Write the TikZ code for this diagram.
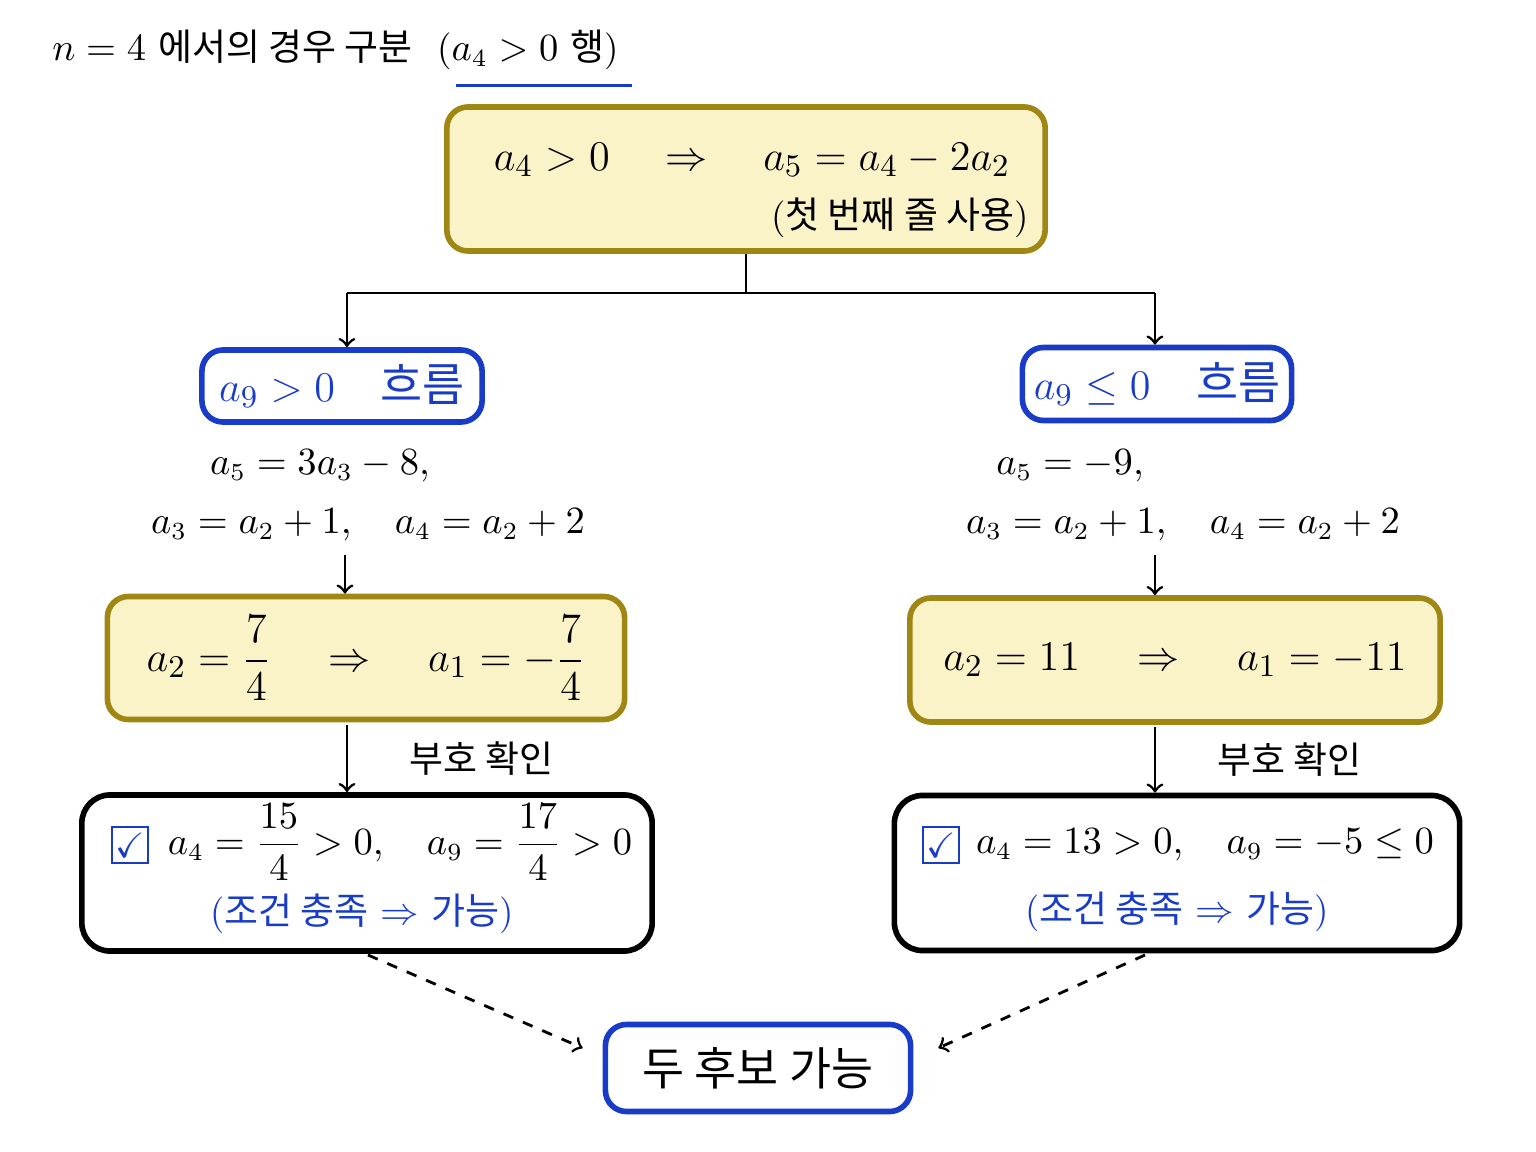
\documentclass[tikz,border=0pt]{standalone}
\usepackage{amsmath}
\usepackage{amssymb}
\usepackage{fontspec}
\newfontfamily\kr{Noto Sans CJK KR}
\usetikzlibrary{positioning}
\definecolor{boxyellow}{RGB}{250,243,200}
\definecolor{olive}{RGB}{160,135,20}
\definecolor{flowblue}{RGB}{25,60,200}
\tikzset{
	yellowbox/.style={draw=olive,fill=boxyellow,line width=1.6pt,rounded corners=6pt,inner sep=2pt},
	bluebox/.style={draw=flowblue,line width=1.6pt,rounded corners=6pt,text=flowblue,inner sep=2pt},
	whitebox/.style={draw=black,line width=1.6pt,rounded corners=8pt},
	tick/.style={draw=flowblue,thick,minimum size=0.36cm,inner sep=0pt,text=flowblue},
	flow/.style={->,thick},
	big/.style={font=\fontsize{13}{16}\selectfont},
	mid/.style={font=\fontsize{10.5}{13}\selectfont}
}
\begin{document}
\begin{tikzpicture}[x=0.01cm,y=-0.01cm]
	\useasboundingbox (0,0) rectangle (1536,1152);
	% title
	\node[anchor=west,mid] (title) at (40,50) {$n=4$ {\kr 에서의 경우 구분}\ \ ($a_4>0$ {\kr 행})};
	\draw[flowblue,thick] ([xshift=-1.75cm,yshift=-1pt]title.south east) -- ([yshift=-1pt]title.south east);
	% top box
	\node[yellowbox,minimum width=5.98cm,minimum height=1.44cm] (top) at (746,179) {};
	\node[big,font=\fontsize{12.5}{15}\selectfont] (topeq) at (752,160) {$a_4>0 \quad\Rightarrow\quad a_5=a_4-2a_2$};
	\node[mid] (topnote) at (900,218) {({\kr 첫 번째 줄 사용})};
	% split
	\coordinate (mid) at (746,293);
	\coordinate (lsplit) at (347,293);
	\coordinate (rsplit) at (1155,293);
	\node[bluebox,minimum width=2.8cm,minimum height=0.72cm,big] (lflow) at (342,386) {$a_9>0$\quad{\kr 흐름}};
	\node[bluebox,minimum width=2.69cm,minimum height=0.73cm,big] (rflow) at (1157,384) {$a_9\le 0$\quad{\kr 흐름}};
	\draw[thick] (top.south) -- (mid) -- (lsplit);
	\draw[thick] (mid) -- (rsplit);
	\draw[flow] (lsplit) -- (lflow.north -| lsplit);
	\draw[flow] (rsplit) -- (rflow.north -| rsplit);
	% left branch
	\node[mid] (leq1) at (320,466) {$a_5=3a_3-8,$};
	\node[mid] (leq2) at (368,525) {$a_3=a_2+1,\quad a_4=a_2+2$};
	\node[yellowbox,minimum width=5.17cm,minimum height=1.23cm,big] (lres) at (366,658) {$a_2=\dfrac{7}{4}\quad\Rightarrow\quad a_1=-\dfrac{7}{4}$};
	\coordinate (la) at (345,555);
	\draw[flow] (la) -- (lres.north -| la);
	\node[whitebox,minimum width=5.7cm,minimum height=1.56cm] (lcheck) at (367,873) {};
	\node[tick] (lbox) at (130,845) {$\checkmark$};
	\node[mid] (lcond) at (400,842) {$a_4=\dfrac{15}{4}>0,\quad a_9=\dfrac{17}{4}>0$};
	\node[mid,text=flowblue] (lok) at (362,914) {({\kr 조건 충족} $\Rightarrow$ {\kr 가능})};
	\coordinate (lb) at (347,725);
	\draw[flow] (lb) -- (lcheck.north -| lb) node[midway,right=14pt,mid] (lsign) {\kr 부호 확인};
	% right branch
	\node[mid] (req1) at (1070,466) {$a_5=-9,$};
	\node[mid] (req2) at (1183,525) {$a_3=a_2+1,\quad a_4=a_2+2$};
	\node[yellowbox,minimum width=5.3cm,minimum height=1.24cm,big] (rres) at (1175,660) {$a_2=11\quad\Rightarrow\quad a_1=-11$};
	\coordinate (ra) at (1155,555);
	\draw[flow] (ra) -- (rres.north -| ra);
	\node[whitebox,minimum width=5.65cm,minimum height=1.55cm] (rcheck) at (1177,873) {};
	\node[tick] (rbox) at (941,845) {$\checkmark$};
	\node[mid] (rcond) at (1205,845) {$a_4=13>0,\quad a_9=-5\le 0$};
	\node[mid,text=flowblue] (rok) at (1177,912) {({\kr 조건 충족} $\Rightarrow$ {\kr 가능})};
	\coordinate (rb) at (1155,727);
	\draw[flow] (rb) -- (rcheck.north -| rb) node[midway,right=14pt,mid] (rsign) {\kr 부호 확인};
	% result
	\node[bluebox,text=black,minimum width=3.05cm,minimum height=0.87cm,big] (both) at (758,1068) {\kr 두 후보 가능};
	\coordinate (ld) at (368,955);
	\coordinate (rd) at (1145,955);
	\draw[flow,dashed] (ld) -- ([xshift=-0.2cm,yshift=0.2cm]both.west);
	\draw[flow,dashed] (rd) -- ([xshift=0.25cm,yshift=0.2cm]both.east);
\end{tikzpicture}
\end{document}
